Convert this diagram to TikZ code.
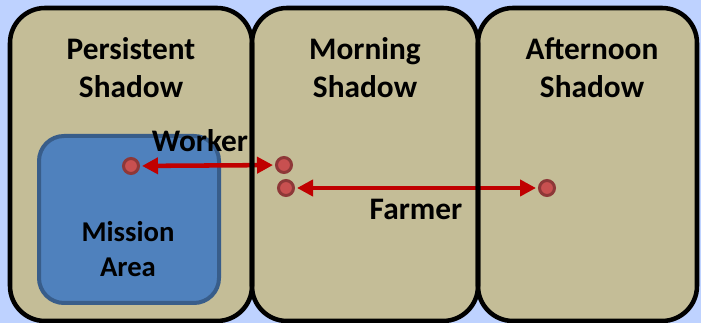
\documentclass[tikz,border=0pt]{standalone}
\usepackage{fontspec}
\setmainfont{Carlito}
\usetikzlibrary{arrows.meta}
\definecolor{skyback}{RGB}{190,210,255}
\definecolor{tanfill}{RGB}{196,189,151}
\definecolor{areafill}{RGB}{79,129,189}
\definecolor{arealine}{RGB}{56,93,138}
\definecolor{dotring}{RGB}{142,56,56}
\definecolor{dotfill}{RGB}{200,80,80}
\definecolor{arrowred}{RGB}{192,0,0}
\tikzset{
  zonebox/.style={rectangle, fill=tanfill, rounded corners=26.25pt,
    minimum height=234.75pt, inner sep=0pt, outer sep=0pt},
  zoneline/.style={draw=black, line width=3.4pt, rounded corners=26.25pt},
  areabox/.style={rectangle, fill=areafill, draw=arealine, line width=3pt,
    rounded corners=18.75pt, minimum width=135pt, minimum height=125.25pt,
    inner sep=0pt},
  title/.style={font=\fontsize{23.5}{28.5}\selectfont\bfseries, align=center,
    inner sep=0pt, anchor=base},
  label/.style={font=\fontsize{23.5}{26.25}\selectfont\bfseries, align=center,
    inner sep=0pt, anchor=base},
  arealabel/.style={font=\fontsize{21.5}{26.25}\selectfont\bfseries, align=center,
    inner sep=0pt, anchor=base},
  spot/.style={circle, draw=dotring, fill=dotfill, line width=2.25pt,
    minimum size=11.25pt, inner sep=0pt},
  link/.style={draw=arrowred, line width=3.4pt,
    {Triangle[length=12pt,width=12pt]}-{Triangle[length=12pt,width=12pt]},
    shorten <=1.5pt, shorten >=1.5pt},
}
\begin{document}
\begin{tikzpicture}[x=0.75pt,y=-0.75pt]
  % page with light blue ground
  \fill[skyback] (0,0) rectangle (701,323);
  \useasboundingbox (0,0) rectangle (701,323);

  % three shadow zones
  \node[zonebox, minimum width=181.5pt]  (persist)   at (131,164.5) {};
  \node[zonebox, minimum width=169.5pt]  (morning)   at (365,164.5) {};
  \node[zonebox, minimum width=164.25pt] (afternoon) at (587.5,164.5) {};

  % mission area (anchored on the baseline of its last line)
  \node[areabox] (area) at (129,219.5) {};
  \node[arealabel] (areatxt) at (128,277) {Mission\\Area};

  % zone titles (anchored on the baseline of their last line)
  \node[title] (t1) at (131,98) {Persistent\\Shadow};
  \node[title] (t2) at (365,98) {Morning\\Shadow};
  \node[title] (t3) at (592,98) {Afternoon\\Shadow};

  % positions of the two people
  \node[spot] (w1) at (131,166) {};
  \node[spot] (w2) at (284,165) {};
  \node[spot] (f1) at (286,188) {};
  \node[spot] (f2) at (547,188) {};

  % movement ranges
  \draw[link] (w1) -- (w2);
  \draw[link] (f1) -- (f2);
  \node[label] (worker) at (200,152) {Worker};
  \node[label] (farmer) at (416,220) {Farmer};

  % zone outlines on top
  \draw[zoneline] (persist.south west) rectangle (persist.north east);
  \draw[zoneline] (morning.south west) rectangle (morning.north east);
  \draw[zoneline] (afternoon.south west) rectangle (afternoon.north east);
\end{tikzpicture}
\end{document}
